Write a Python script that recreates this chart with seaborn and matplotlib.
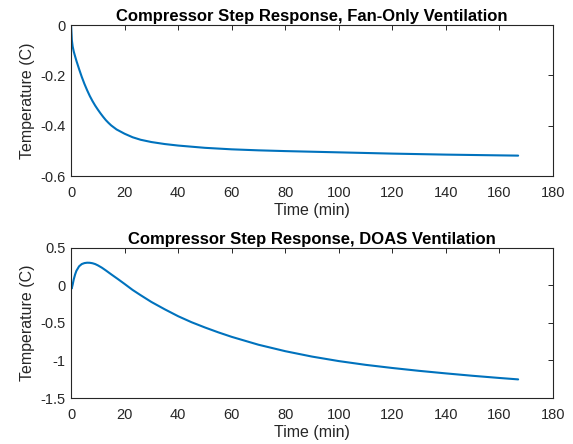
import matplotlib
matplotlib.use('Agg')
import matplotlib.pyplot as plt
import numpy as np
import pandas as pd
import seaborn as sns

# Fan-only ventilation step response
t_fan = [0, 0.3, 0.6, 1, 1.5, 2, 3, 4, 5, 6, 7, 8, 9, 10, 11, 12, 13, 14, 15,
         17, 20, 23, 26, 30, 35, 40, 50, 60, 70, 80, 100, 120, 140, 160, 167]
temp_fan = [0, -0.06, -0.085, -0.105, -0.124, -0.142, -0.175, -0.206, -0.234,
            -0.259, -0.282, -0.302, -0.32, -0.336, -0.351, -0.365, -0.378,
            -0.389, -0.399, -0.415, -0.432, -0.446, -0.456, -0.465, -0.473,
            -0.479, -0.488, -0.494, -0.498, -0.501, -0.506, -0.511, -0.515,
            -0.518, -0.519]

# DOAS ventilation step response
t_doas = [0, 0.25, 0.6, 1, 1.5, 2, 3, 4, 5, 6, 7, 8, 9, 10, 11.5, 13, 15,
          17.5, 20, 23, 26, 30, 35, 40, 45, 50, 55, 60, 70, 80, 90, 100, 110,
          120, 130, 140, 150, 160, 167]
temp_doas = [0, -0.04, 0.01, 0.08, 0.145, 0.195, 0.255, 0.285, 0.298, 0.303,
             0.302, 0.296, 0.285, 0.268, 0.237, 0.2, 0.148, 0.085, 0.02, -0.06,
             -0.13, -0.22, -0.318, -0.41, -0.49, -0.56, -0.625, -0.685, -0.79,
             -0.876, -0.948, -1.008, -1.058, -1.1, -1.138, -1.172, -1.204,
             -1.233, -1.252]

titles = ['Compressor Step Response, Fan-Only Ventilation',
          'Compressor Step Response, DOAS Ventilation']

sns.set_style('white')
plt.rcParams['font.family'] = ['Liberation Sans', 'DejaVu Sans']
plt.rcParams['axes.unicode_minus'] = False

fig = plt.figure(figsize=(5.73, 4.44), dpi=100)
ax1 = fig.add_axes([0.124, 0.6036, 0.841, 0.340])
ax2 = fig.add_axes([0.124, 0.1036, 0.841, 0.338])

grey = '#262626'
line_col = '#0072BD'

df_fan = pd.DataFrame({'t': t_fan, 'temp': temp_fan})
df_doas = pd.DataFrame({'t': t_doas, 'temp': temp_doas})

sns.lineplot(data=df_fan, x='t', y='temp', ax=ax1, color=line_col, lw=1.5)
sns.lineplot(data=df_doas, x='t', y='temp', ax=ax2, color=line_col, lw=1.5)

ax1.set_ylim(-0.6, 0)
ax1.set_yticks([-0.6, -0.4, -0.2, 0])
ax1.set_yticklabels(['-0.6', '-0.4', '-0.2', '0'])
ax2.set_ylim(-1.5, 0.5)
ax2.set_yticks([-1.5, -1, -0.5, 0, 0.5])
ax2.set_yticklabels(['-1.5', '-1', '-0.5', '0', '0.5'])

for ax, title in zip([ax1, ax2], titles):
    ax.set_xlim(0, 180)
    ax.set_xticks(range(0, 181, 20))
    ax.set_title(title, fontsize=12, fontweight='bold', pad=3, color='black')
    ax.set_xlabel('Time (min)', fontsize=11.5, color=grey, labelpad=2)
    ax.set_ylabel('Temperature (C)', fontsize=11.5, color=grey, labelpad=4)
    ax.tick_params(direction='in', length=3.5, width=0.7, colors=grey,
                   labelsize=10.5, top=True, right=True)
    ax.tick_params(axis='x', pad=7)
    ax.tick_params(axis='y', pad=4)
    for s in ax.spines.values():
        s.set_color(grey)
        s.set_linewidth(0.8)

fig.savefig('out.png', dpi=100)
